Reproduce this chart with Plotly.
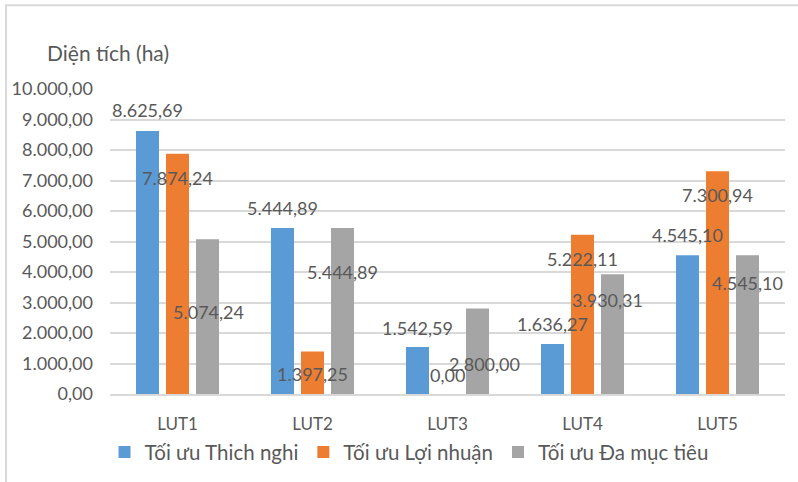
import plotly.graph_objects as go

# Land-use types and optimisation results (ha)
categories = ["LUT1", "LUT2", "LUT3", "LUT4", "LUT5"]
series_names = ["Tối ưu Thich nghi", "Tối ưu Lợi nhuận", "Tối ưu Đa mục tiêu"]
thich_nghi = [8625.69, 5444.89, 1542.59, 1636.27, 4545.10]
loi_nhuan = [7874.24, 1397.25, 0.00, 5222.11, 7300.94]
da_muc_tieu = [5074.24, 5444.89, 2800.00, 3930.31, 4545.10]
y_ticks = [0, 1000, 2000, 3000, 4000, 5000, 6000, 7000, 8000, 9000, 10000]

colors = ["#5B9BD5", "#ED7D31", "#A5A5A5"]
text_color = "#595959"
font_family = "Lato, 'Open Sans', sans-serif"

# Hand-placed label offsets (pixels, dx right / dy down from the bar top)
label_offsets = [
    [(0, -21), (0, -20), (0, -19), (0, -20), (0, -20)],
    [(0, 24), (0, 23), (0, -19), (0, 24), (0, 24)],
    [(1, 73), (0, 44), (7, 55), (-5, 26), (0, 28)],
]
bar_shift = [-30, 0, 30]


def fmt_vn(v):
    s = f"{v:,.2f}"
    return s.replace(",", "_").replace(".", ",").replace("_", ".")


fig = go.Figure()
all_series = [thich_nghi, loi_nhuan, da_muc_tieu]
for name, vals, col in zip(series_names, all_series, colors):
    fig.add_trace(go.Bar(name=name, x=categories, y=vals, marker_color=col,
                         marker_line_width=0))

annotations = []
for si, vals in enumerate(all_series):
    for ci, (cat, v) in enumerate(zip(categories, vals)):
        dx, dy = label_offsets[si][ci]
        annotations.append(dict(
            x=cat, y=v, xref="x", yref="y", text=fmt_vn(v), showarrow=False,
            xshift=bar_shift[si] + dx, yshift=-dy,
            font=dict(size=18, color=text_color, family=font_family),
        ))

annotations.append(dict(
    x=-0.096, y=1.121, xref="paper", yref="paper", text="Diện tích (ha)",
    showarrow=False, xanchor="left", yanchor="middle",
    font=dict(size=21, color=text_color, family=font_family),
))

fig.update_layout(
    width=798, height=482,
    margin=dict(l=110, r=13, t=89, b=88, autoexpand=False),
    paper_bgcolor="white", plot_bgcolor="white",
    separators=",.",
    barmode="group", bargap=0.333, bargroupgap=0.233,
    font=dict(family=font_family, color=text_color, size=17),
    showlegend=True,
    legend=dict(orientation="h", x=0.443, xanchor="center",
                yref="container", y=0.062, yanchor="middle",
                font=dict(size=20.5, color=text_color),
                itemwidth=30, bgcolor="rgba(0,0,0,0)"),
    annotations=annotations,
    shapes=[dict(type="rect", xref="paper", yref="paper",
                 x0=-0.154, x1=1.03, y0=-0.33, y1=1.275,
                 line=dict(color="#D9D9D9", width=2), layer="below")],
)

fig.update_yaxes(range=[0, 10000], tickvals=y_ticks, tickformat=",.2f",
                 showgrid=True, gridcolor="#D9D9D9", gridwidth=1.5,
                 zeroline=False, showline=False,
                 ticklabelstandoff=16,
                 tickfont=dict(size=18, color=text_color))
fig.update_xaxes(showline=True, linecolor="#D9D9D9", linewidth=2,
                 showgrid=False, ticks="", ticklabelstandoff=14,
                 tickfont=dict(size=17, color=text_color))

fig.write_html("out.html")
